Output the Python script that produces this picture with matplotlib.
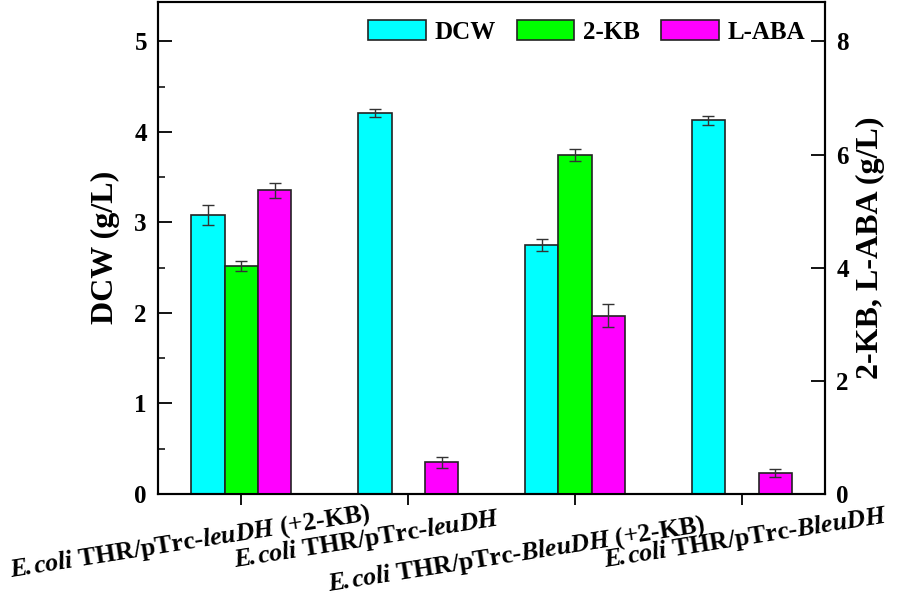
import matplotlib.pyplot as plt
import numpy as np
from matplotlib.transforms import ScaledTranslation

plt.rcParams['font.family'] = ['Liberation Serif', 'DejaVu Serif']
plt.rcParams['font.weight'] = 'bold'
plt.rcParams['mathtext.fontset'] = 'custom'
plt.rcParams['mathtext.rm'] = 'Liberation Serif:bold'
plt.rcParams['mathtext.it'] = 'Liberation Serif:italic:bold'
plt.rcParams['mathtext.bf'] = 'Liberation Serif:bold'

strains = [r'$\mathit{E\!.coli}$ THR/pTrc-$\mathit{leuDH}$ (+2-KB)',
           r'$\mathit{E\!.coli}$ THR/pTrc-$\mathit{leuDH}$',
           r'$\mathit{E\!.coli}$ THR/pTrc-$\mathit{BleuDH}$ (+2-KB)',
           r'$\mathit{E\!.coli}$ THR/pTrc-$\mathit{BleuDH}$']
dcw = [3.08, 4.21, 2.75, 4.13]
dcw_err = [0.11, 0.04, 0.07, 0.05]
kb = [4.03, np.nan, 5.99, np.nan]
kb_err = [0.09, np.nan, 0.11, np.nan]
aba = [5.37, 0.56, 3.15, 0.37]
aba_err = [0.13, 0.10, 0.20, 0.07]

# where each strain label's centre sits relative to its tick, in pixels
label_shift = [(-51, -48), (-41, -46), (-59, -61), (4, -44)]

x = np.arange(len(strains))
w = 0.2

fig = plt.figure(figsize=(8.98, 5.98), dpi=100)
ax = fig.add_axes([0.176, 0.174, 0.743, 0.823])
ax2 = ax.twinx()

err_kw = dict(ecolor='#333333', elinewidth=1, capsize=4, capthick=1)
b1 = ax.bar(x - w, dcw, w, yerr=dcw_err, color='#00FFFF', edgecolor='#222222',
            linewidth=1.2, error_kw=err_kw, label='DCW')
b2 = ax2.bar(x, kb, w, yerr=kb_err, color='#00FF00', edgecolor='#222222',
             linewidth=1.2, error_kw=err_kw, label='2-KB')
b3 = ax2.bar(x + w, aba, w, yerr=aba_err, color='#FF00FF', edgecolor='#222222',
             linewidth=1.2, error_kw=err_kw, label='L-ABA')

ax.set_xlim(-0.5, 3.5)
ax.set_ylim(0, 5.4375)
ax2.set_ylim(0, 8.7)
ax.set_yticks([0, 1, 2, 3, 4, 5])
ax.set_yticks(np.arange(0.5, 5.4, 1.0), minor=True)
ax2.set_yticks([0, 2, 4, 6, 8])

for a in (ax, ax2):
    for s in a.spines.values():
        s.set_linewidth(1.5)
ax.tick_params(axis='y', direction='in', length=10, width=1.3, labelsize=18, pad=8)
ax.tick_params(axis='y', which='minor', direction='in', length=5, width=1.1)
ax2.tick_params(axis='y', direction='in', length=10, width=1.3, labelsize=18, pad=8)
ax.tick_params(axis='x', direction='out', length=8, width=1.3)

ax.set_xticks(x)
ax.set_xticklabels([])
for xi, name, (dx, dy) in zip(x, strains, label_shift):
    off = ScaledTranslation(dx / 100, dy / 100, fig.dpi_scale_trans)
    ax.text(xi, 0, name, transform=ax.get_xaxis_transform() + off,
            rotation=9, rotation_mode='anchor', ha='center', va='center',
            fontsize=18.5, fontweight='bold')

ax.set_ylabel('DCW (g/L)', fontsize=23, fontweight='bold', labelpad=10)
ax2.set_ylabel('2-KB, L-ABA (g/L)', fontsize=23, fontweight='bold', labelpad=5)

ax.legend([b1, b2, b3], ['DCW', '2-KB', 'L-ABA'], loc='upper right', ncol=3,
          frameon=False, fontsize=18, handlelength=2.3, handleheight=0.85,
          columnspacing=0.85, handletextpad=0.35, borderpad=0, borderaxespad=0,
          bbox_to_anchor=(0.970, 0.963))

fig.savefig('out.png', dpi=100)
